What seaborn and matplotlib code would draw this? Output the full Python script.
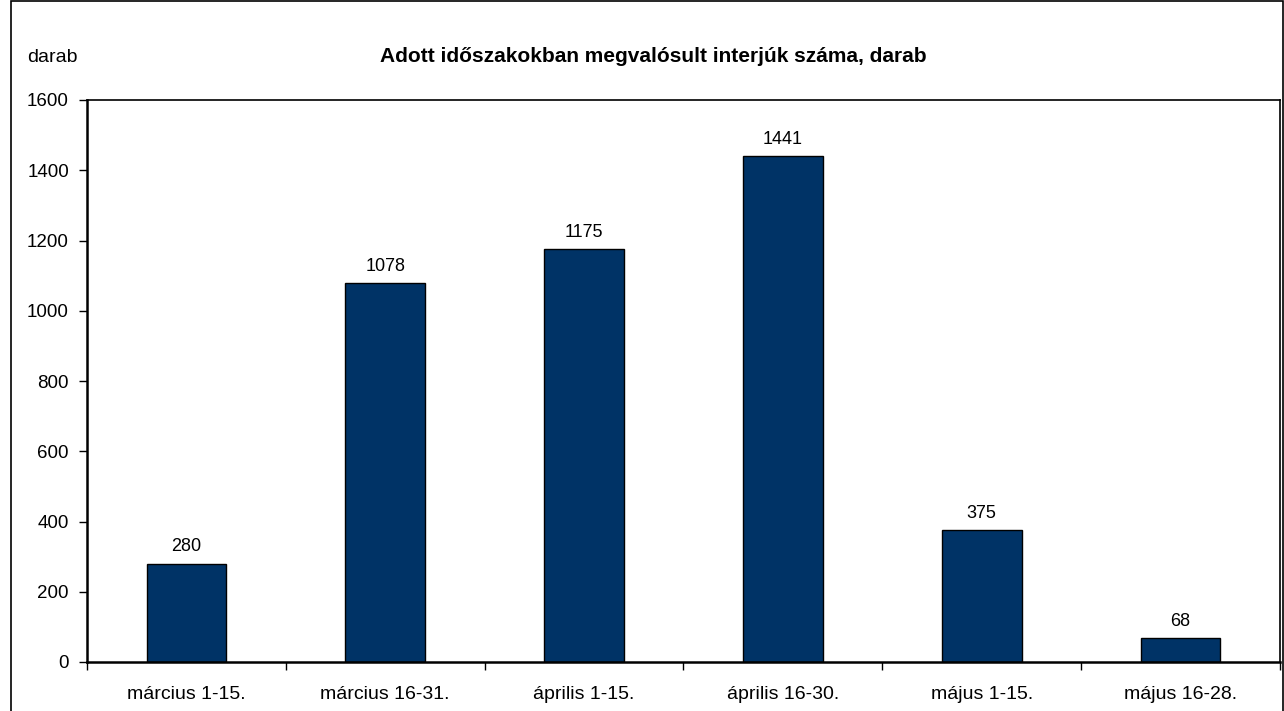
import matplotlib
matplotlib.use("Agg")
import matplotlib.pyplot as plt
import seaborn as sns
import pandas as pd
from matplotlib.patches import Rectangle

categories = ["március 1-15.", "március 16-31.", "április 1-15.", "április 16-30.", "május 1-15.", "május 16-28."]
values = [280, 1078, 1175, 1441, 375, 68]
y_ticks = [0, 200, 400, 600, 800, 1000, 1200, 1400, 1600]

sns.set_theme(style="white")
plt.rcParams['font.family'] = ['Liberation Sans', 'DejaVu Sans']
plt.rcParams['text.color'] = 'black'
plt.rcParams['xtick.color'] = 'black'
plt.rcParams['ytick.color'] = 'black'

df = pd.DataFrame({"cat": categories, "val": values})

fig = plt.figure(figsize=(12.84, 7.11), dpi=100)
ax = fig.add_axes([87/1284, 1 - 662/711, (1280 - 87)/1284, (662 - 100)/711])

sns.barplot(data=df, x="cat", y="val", ax=ax, color="#003366", width=0.4,
            edgecolor="black", linewidth=1.0, saturation=1)

ax.set_ylim(0, 1600)
ax.set_xlim(-0.5, len(categories) - 0.5)
ax.set_yticks(y_ticks)
ax.set_yticklabels([str(t) for t in y_ticks], fontsize=13.5)
ax.set_xticks(range(len(categories)))
ax.set_xticklabels(categories, fontsize=14)
ax.tick_params(axis='x', length=0, pad=17)
ax.tick_params(axis='y', direction='out', length=6, width=1, color='black', pad=7, left=True)
ax.set_xticks([i - 0.5 for i in range(len(categories) + 1)], minor=True)
ax.tick_params(axis='x', which='minor', direction='out', length=6, width=1, color='black', bottom=True)
ax.set_xlabel("")
ax.set_ylabel("")

for s in ["left", "bottom"]:
    ax.spines[s].set_linewidth(1.8)
    ax.spines[s].set_color("black")
for s in ["top", "right"]:
    ax.spines[s].set_linewidth(1.2)
    ax.spines[s].set_color("black")
    ax.spines[s].set_visible(True)

for i, v in enumerate(values):
    ax.annotate(str(v), (i, v), xytext=(0, 6), textcoords="offset points",
                ha="center", va="bottom", fontsize=13, color="black")

fig.text(653/1284, 1 - 57/711, "Adott időszakokban megvalósult interjúk száma, darab",
         ha="center", va="center", fontsize=15, fontweight="bold")
fig.text(27/1284, 1 - 58/711, "darab", ha="left", va="center", fontsize=14)

fig.patches.append(Rectangle((11/1284, -0.05), (1283 - 11)/1284, 1.05 - 1/711,
                             transform=fig.transFigure, fill=False,
                             edgecolor="black", linewidth=1.2))

fig.savefig("out.png", dpi=100)
